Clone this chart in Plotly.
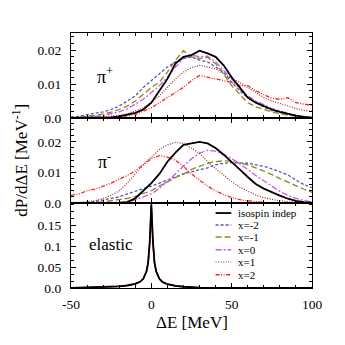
import plotly.graph_objects as go
from plotly.subplots import make_subplots

# energy grid for the inelastic panels (MeV)
de = [-50, -45, -40, -35, -30, -25, -20, -15, -10, -5, 0, 5, 10, 15, 20, 25,
      30, 35, 40, 45, 50, 55, 60, 65, 70, 75, 80, 85, 90, 95, 100]

# pi+ panel
pip_indep = [0, 0, 0, 0, 0, 0.0002, 0.0005, 0.001, 0.0015, 0.0025, 0.0045, 0.008, 0.0115, 0.016, 0.018, 0.0185,
             0.0198, 0.019, 0.018, 0.0155, 0.012, 0.009, 0.006, 0.0045, 0.0035, 0.0025, 0.0018, 0.0012, 0.0007, 0.0003, 0.0001]
pip_m2 = [0.0003, 0.0005, 0.001, 0.0013, 0.0018, 0.0025, 0.0035, 0.005, 0.0065, 0.009, 0.011, 0.013, 0.015, 0.0165, 0.0175, 0.018,
          0.017, 0.0165, 0.015, 0.0135, 0.0105, 0.008, 0.006, 0.0045, 0.0032, 0.0022, 0.0015, 0.001, 0.0006, 0.0003, 0.0001]
pip_m1 = [0, 0.0002, 0.0005, 0.0008, 0.0012, 0.0017, 0.0025, 0.0035, 0.005, 0.007, 0.009, 0.0105, 0.0135, 0.017, 0.0198, 0.018,
          0.0175, 0.0178, 0.016, 0.013, 0.0095, 0.007, 0.0045, 0.0033, 0.0025, 0.0018, 0.0012, 0.0008, 0.0005, 0.0002, 0.0001]
pip_0 = [0, 0.0001, 0.0003, 0.0005, 0.0008, 0.0012, 0.0018, 0.0027, 0.004, 0.0055, 0.0075, 0.0095, 0.012, 0.015, 0.0175, 0.0185,
         0.018, 0.0182, 0.0165, 0.014, 0.0115, 0.0085, 0.0065, 0.005, 0.0038, 0.0028, 0.002, 0.0013, 0.0008, 0.0004, 0.0002]
pip_p1 = [0, 0, 0.0001, 0.0002, 0.0003, 0.0005, 0.0008, 0.0012, 0.002, 0.003, 0.0045, 0.0065, 0.009, 0.0115, 0.0135, 0.0148,
          0.0155, 0.015, 0.0145, 0.013, 0.0115, 0.0105, 0.009, 0.0075, 0.006, 0.005, 0.0042, 0.0035, 0.0028, 0.0022, 0.002]
pip_p2 = [0, 0, 0, 0.0001, 0.0001, 0.0002, 0.0003, 0.0006, 0.001, 0.002, 0.003, 0.0045, 0.006, 0.0075, 0.009, 0.011,
          0.0125, 0.012, 0.0115, 0.011, 0.0105, 0.0095, 0.0095, 0.008, 0.0068, 0.0058, 0.0055, 0.006, 0.0045, 0.004, 0.0037]

# pi- panel
pim_indep = [0, 0, 0, 0, 0, 0, 0, 0.0003, 0.0015, 0.004, 0.0065, 0.0095, 0.0135, 0.0165, 0.019, 0.0195,
             0.02, 0.0195, 0.018, 0.0158, 0.0135, 0.011, 0.0085, 0.0062, 0.0047, 0.0035, 0.0024, 0.0014, 0.0007, 0.0003, 0.0001]
pim_m2 = [0, 0, 0.0002, 0.0005, 0.001, 0.0015, 0.002, 0.003, 0.0038, 0.0045, 0.0055, 0.0065, 0.0075, 0.0085, 0.0095, 0.0102,
          0.0108, 0.0115, 0.0125, 0.013, 0.0132, 0.0132, 0.013, 0.0125, 0.012, 0.0112, 0.0103, 0.0092, 0.0075, 0.006, 0.005]
pim_m1 = [0, 0, 0, 0.0002, 0.0004, 0.0007, 0.001, 0.0015, 0.0022, 0.003, 0.004, 0.0055, 0.007, 0.0083, 0.0095, 0.011,
          0.012, 0.013, 0.0135, 0.0138, 0.0137, 0.013, 0.0125, 0.0115, 0.0105, 0.0093, 0.008, 0.0068, 0.0055, 0.0045, 0.0035]
pim_0 = [0, 0, 0, 0, 0, 0, 0.0002, 0.0005, 0.001, 0.002, 0.003, 0.0048, 0.007, 0.0095, 0.012, 0.0145,
         0.0163, 0.0172, 0.017, 0.016, 0.0145, 0.0128, 0.011, 0.009, 0.0072, 0.0055, 0.0038, 0.0025, 0.0015, 0.0008, 0.0004]
pim_p1 = [0, 0.0001, 0.0004, 0.0008, 0.0015, 0.0025, 0.004, 0.0065, 0.0095, 0.0125, 0.015, 0.0175, 0.019, 0.0198, 0.0195, 0.018,
          0.0162, 0.0135, 0.0112, 0.009, 0.007, 0.0052, 0.0038, 0.0026, 0.0017, 0.0011, 0.0007, 0.0004, 0.0002, 0.0001, 0]
pim_p2 = [0.0025, 0.003, 0.004, 0.0045, 0.0055, 0.0065, 0.0078, 0.009, 0.0105, 0.0125, 0.0145, 0.0155, 0.015, 0.014, 0.012, 0.0095,
          0.0075, 0.0055, 0.004, 0.0027, 0.0018, 0.0011, 0.0007, 0.0004, 0.0002, 0.0001, 0, 0, 0, 0, 0]

# elastic panel, finer grid around the peak
de_el = [-50, -40, -30, -20, -15, -10, -7, -5, -3, -2, -1, 0, 1, 2, 3, 5, 7, 10, 15, 20, 30, 40, 50, 60, 80, 100]
el_indep = [0, 0.001, 0.002, 0.004, 0.006, 0.01, 0.015, 0.022, 0.04, 0.06, 0.11, 0.2, 0.11, 0.06, 0.04, 0.022, 0.014, 0.009, 0.005, 0.003, 0.001, 0.0005, 0.0002, 0, 0, 0]
el_m2 = [0, 0.001, 0.002, 0.0042, 0.0062, 0.0105, 0.0155, 0.022, 0.041, 0.061, 0.108, 0.195, 0.108, 0.061, 0.041, 0.022, 0.0145, 0.0092, 0.005, 0.003, 0.001, 0.0005, 0.0002, 0, 0, 0]
el_m1 = [0, 0.001, 0.002, 0.0041, 0.0061, 0.0102, 0.0152, 0.0222, 0.04, 0.06, 0.109, 0.197, 0.109, 0.06, 0.04, 0.0222, 0.0142, 0.0091, 0.005, 0.003, 0.001, 0.0005, 0.0002, 0, 0, 0]
el_0 = [0, 0.001, 0.002, 0.004, 0.006, 0.0101, 0.015, 0.0221, 0.0405, 0.0605, 0.11, 0.198, 0.11, 0.0605, 0.0405, 0.0221, 0.015, 0.0095, 0.0052, 0.003, 0.001, 0.0005, 0.0002, 0, 0, 0]
el_p1 = [0, 0.0008, 0.0018, 0.0038, 0.006, 0.0098, 0.0148, 0.0218, 0.039, 0.059, 0.108, 0.195, 0.108, 0.059, 0.039, 0.0218, 0.0148, 0.0095, 0.0052, 0.0028, 0.0009, 0.0004, 0.0001, 0, 0, 0]
el_p2 = [0, 0.0007, 0.0015, 0.0035, 0.0065, 0.0095, 0.0145, 0.0215, 0.039, 0.058, 0.106, 0.19, 0.106, 0.058, 0.039, 0.0215, 0.0145, 0.01, 0.0055, 0.0025, 0.0008, 0.0003, 0.0001, 0, 0, 0]

labels = ["isospin indep", "x=-2", "x=-1", "x=0", "x=1", "x=2"]
colors = ["black", "#5555bb", "#8a8a10", "#cc55ee", "#a02828", "#ff2020"]
dashes = ["solid", "3px,2px", "6px,3px", "6px,2px,2px,2px", "1px,1.5px", "4px,1.5px,1px,1.5px,1px,1.5px"]
widths = [1.8, 1.3, 1.3, 1.3, 1.2, 1.3]

panels = [
    (1, de, [pip_indep, pip_m2, pip_m1, pip_0, pip_p1, pip_p2]),
    (2, de, [pim_indep, pim_m2, pim_m1, pim_0, pim_p1, pim_p2]),
    (3, de_el, [el_indep, el_m2, el_m1, el_0, el_p1, el_p2]),
]

fig = make_subplots(rows=3, cols=1, shared_xaxes=True, vertical_spacing=0)

for row, xs, series in panels:
    # draw black last so it sits on top
    for i in [1, 2, 3, 4, 5, 0]:
        fig.add_trace(go.Scatter(x=xs, y=series[i], mode="lines", name=labels[i], showlegend=False,
                                 line=dict(color=colors[i], dash=dashes[i], width=widths[i])), row=row, col=1)

font = "Liberation Serif"
axis_style = dict(showline=True, linecolor="black", linewidth=1.3, mirror="allticks", automargin=False,
                  ticks="inside", ticklen=5, tickcolor="black", showgrid=False, zeroline=False,
                  tickfont=dict(family=font, size=13.5, color="black"))

fig.update_xaxes(range=[-50, 100], tickvals=[-50, 0, 50, 100], ticktext=["-50", "0", "50", "100"],
                 ticklabelstandoff=4,
                 minor=dict(dtick=10, tick0=0, ticks="inside", ticklen=3, tickcolor="black"), **axis_style)
fig.update_xaxes(showticklabels=False, row=1, col=1)
fig.update_xaxes(showticklabels=False, row=2, col=1)

ymin = dict(ticks="inside", ticklen=3, tickcolor="black", tick0=0)
fig.update_yaxes(range=[0, 0.025], tickvals=[0, 0.01, 0.02], ticktext=["0.0", "0.01", "0.02"],
                 minor=dict(dtick=0.002, **ymin), ticklabelstandoff=6, row=1, col=1, **axis_style)
fig.update_yaxes(range=[0, 0.0278], tickvals=[0, 0.01, 0.02], ticktext=["0.0", "0.01", "0.02"],
                 minor=dict(dtick=0.002, **ymin), ticklabelstandoff=6, row=2, col=1, **axis_style)
fig.update_yaxes(range=[0, 0.203], tickvals=[0, 0.05, 0.1, 0.15], ticktext=["0.0", "0.05", "0.1", "0.15"],
                 minor=dict(dtick=0.05 / 3, **ymin), ticklabelstandoff=6, row=3, col=1, **axis_style)

ann = [
    dict(text="π<sup>+</sup>", x=0.14, y=0.835, font=dict(size=18)),
    dict(text="π<sup>-</sup>", x=0.14, y=0.50, font=dict(size=18)),
    dict(text="elastic", x=0.166, y=0.169, font=dict(size=17)),
    dict(text="dP/dΔE [MeV<sup>-1</sup>]", x=-0.215, y=0.5, textangle=-90, font=dict(size=17)),
    dict(text="ΔE [MeV]", x=0.5, y=-0.137, font=dict(size=17)),
]
annotations = []
for a in ann:
    a["font"]["family"] = font
    a["font"]["color"] = "black"
    annotations.append(dict(xref="paper", yref="paper", showarrow=False,
                            xanchor="center", yanchor="middle", **a))

# hand-made legend inside the elastic panel
shapes = []
leg_y = [0.294, 0.247, 0.200, 0.150, 0.102, 0.052]
for i, ly in enumerate(leg_y):
    shapes.append(dict(type="line", xref="paper", yref="paper", x0=0.60, x1=0.665, y0=ly, y1=ly,
                       line=dict(color=colors[i], dash=dashes[i], width=widths[i])))
    annotations.append(dict(xref="paper", yref="paper", x=0.685, y=ly, xanchor="left", yanchor="middle",
                            showarrow=False, text=labels[i],
                            font=dict(family=font, size=11, color="black")))

# the page body adds an 8px offset, so the figure is drawn 8px smaller
fig.update_layout(width=337, height=337, margin=dict(l=63, r=33, t=25, b=57, autoexpand=False),
                  paper_bgcolor="white", plot_bgcolor="white",
                  annotations=annotations, shapes=shapes, showlegend=False)

fig.write_html("out.html")
